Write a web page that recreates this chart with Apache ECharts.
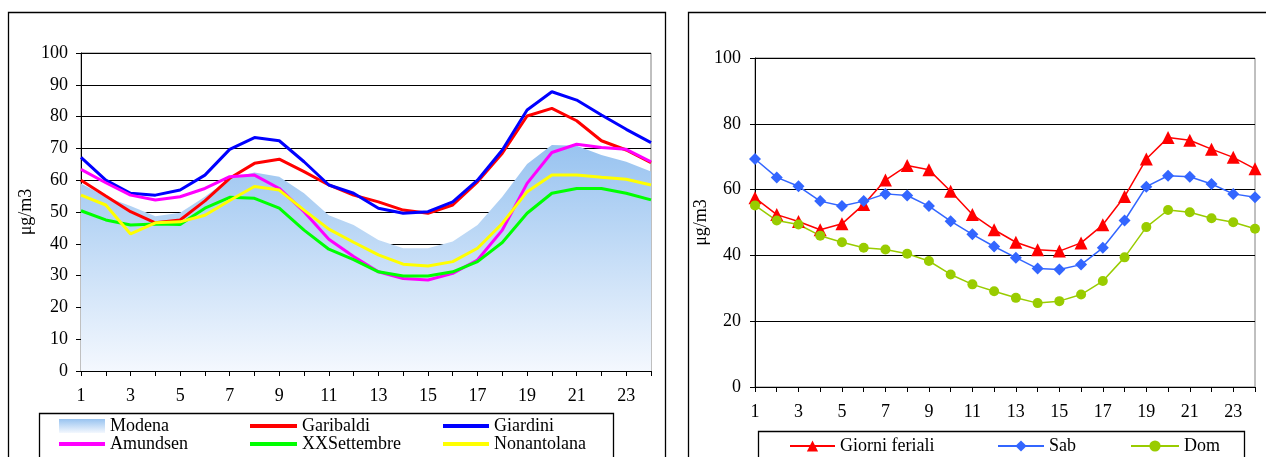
<!DOCTYPE html>
<html>
<head>
<meta charset="utf-8">
<script src="https://cdn.jsdelivr.net/npm/echarts@6/dist/echarts.min.js"></script>
<style>
html,body{margin:0;padding:0;background:#fff;}
#c{width:1266px;height:457px;}
</style>
</head>
<body>
<div id="c"></div>
<script>
const hours = ['1','2','3','4','5','6','7','8','9','10','11','12','13','14','15','16','17','18','19','20','21','22','23','24'];

const modena      = [59,54.8,51.9,48.7,49.8,54.8,60.6,62.4,61.1,55.9,49,45.9,41.2,38.6,38.6,40.7,45.9,54.8,65.1,71.1,70.8,67.9,65.8,62.7];
const garibaldi   = [60,55,50.1,46.6,47.5,53.5,60.6,65.3,66.6,62.7,58.5,55.3,53.2,50.6,49.6,52.2,59.5,68.5,80.2,82.6,78.7,72.4,69.5,65.5];
const giardini    = [67.2,60,55.9,55.3,56.9,61.6,69.7,73.4,72.4,65.8,58.5,55.9,51.2,49.6,50.1,53.2,60,69.5,82.1,87.8,85.2,80.5,76,71.8];
const amundsen    = [63.4,59.2,55.3,53.8,54.8,57.4,61.1,61.6,57.4,50.1,41.4,36,31.2,29.1,28.6,30.7,34.9,44.3,59,68.7,71.3,70.3,69.7,65.8];
const xxsettembre = [50.4,47.5,45.9,46.2,46.1,51.2,54.6,54.3,51.2,44.3,38.3,35,31.2,29.9,29.9,31.2,34.4,40.4,49.6,55.9,57.4,57.4,55.9,53.8];
const nonantolana = [55.3,52.2,43.1,46.6,46.9,49,53.6,58,56.9,50.6,44.6,40.5,36.5,33.6,33,34.4,38.6,46.4,56.4,61.6,61.6,60.9,60.3,58.5];

const feriali = [57.5,52.4,50.3,47.8,49.6,55.5,62.9,67.3,66,59.5,52.4,47.8,44,41.7,41.3,43.8,49.3,57.9,69.3,75.8,75,72.3,69.8,66.3];
const sab     = [69.3,63.7,61,56.5,55,56.5,58.7,58.2,55,50.4,46.4,42.7,39.3,36,35.7,37.2,42.3,50.6,60.9,64.2,63.9,61.7,58.7,57.7];
const dom     = [55.2,50.6,49.4,46,44,42.3,41.8,40.5,38.3,34.2,31.2,29.1,27.1,25.5,26.1,28.1,32.2,39.4,48.6,53.8,53.1,51.3,50.1,48.1];

const FONT = 'Liberation Serif';
const FS = 18;
const chart = echarts.init(document.getElementById('c'), null, {renderer:'canvas'});

function modenaGrad(){
  return new echarts.graphic.LinearGradient(0,0,0,1,[
    {offset:0,color:'#98c3f0'},
    {offset:1,color:'#f4f8fe'}
  ]);
}
function txt(){ return {fontFamily:FONT,fontSize:FS,color:'#000'}; }

function xAxis(gridIndex){
  return {
    type:'category', gridIndex, data:hours, boundaryGap:false,
    axisLine:{lineStyle:{color:'#000',width:1}},
    axisTick:{show:true,interval:0,alignWithLabel:true,length:5,lineStyle:{color:'#000'}},
    axisLabel:Object.assign({interval:1,margin:16},txt()),
    splitLine:{show:false}
  };
}
function yAxis(gridIndex, interval, gap, margin){
  return {
    type:'value', gridIndex, min:0, max:100, interval,
    name:'μg/m3', nameLocation:'middle', nameGap:gap, nameRotate:90,
    nameTextStyle:txt(),
    axisLine:{show:true,lineStyle:{color:'#000',width:1}},
    axisTick:{show:true,length:5,lineStyle:{color:'#000'}},
    axisLabel:Object.assign({margin},txt()),
    splitLine:{show:true,lineStyle:{color:'#000',width:1}}
  };
}
function lineS(name, data, color){
  return {name, type:'line', xAxisIndex:0, yAxisIndex:0, data, symbol:'none',
    lineStyle:{color,width:3}, itemStyle:{color}, animation:false};
}
function markS(name, data, color, symbol, size){
  return {name, type:'line', xAxisIndex:1, yAxisIndex:1, data, symbol, symbolSize:size,
    showSymbol:true, lineStyle:{color,width:1.5}, itemStyle:{color}, animation:false};
}
const BAR = 'path://M0,0H46V4H0Z';
function legend(data,left,top,itemWidth,orient){
  return {data,left,top,orient:orient||'vertical',itemWidth,itemHeight:14,itemGap:0,padding:0,
    symbolKeepAspect:true,textStyle:txt(),selectedMode:false};
}
function barItem(name,color){ return {name,icon:BAR,itemStyle:{color}}; }

chart.setOption({
  animation:false,
  backgroundColor:'#fff',
  grid:[
    {left:81,top:53,width:570,height:318,show:true,borderColor:'#808080',borderWidth:1,backgroundColor:'transparent'},
    {left:755,top:58,width:500,height:329,show:true,borderColor:'#808080',borderWidth:1,backgroundColor:'transparent'}
  ],
  xAxis:[xAxis(0),xAxis(1)],
  yAxis:[yAxis(0,10,46,13),yAxis(1,20,36,14)],
  legend:[
    legend([{name:'Modena',icon:'rect',itemStyle:{color:modenaGrad()}},barItem('Amundsen','#ff00ff')],59,417,46),
    legend([barItem('Garibaldi','#ff0000'),barItem('XXSettembre','#00ff00')],250,417,47),
    legend([barItem('Giardini','#0000ff'),barItem('Nonantolana','#ffff00')],443,417,46),
    legend(['Giorni feriali'],789,437,45,'horizontal'),
    legend(['Sab'],997,437,46,'horizontal'),
    legend(['Dom'],1130,437,48,'horizontal')
  ],
  graphic:[
    {type:'rect',shape:{x:8.5,y:12.5,width:657,height:470},style:{fill:null,stroke:'#000',lineWidth:1.3},silent:true},
    {type:'rect',shape:{x:688.5,y:12.5,width:600,height:470},style:{fill:null,stroke:'#000',lineWidth:1.3},silent:true},
    {type:'rect',shape:{x:39.5,y:413.5,width:574,height:60},style:{fill:null,stroke:'#000',lineWidth:1.3},silent:true},
    {type:'rect',shape:{x:758.5,y:431.5,width:486,height:40},style:{fill:null,stroke:'#000',lineWidth:1.3},silent:true}
  ],
  series:[
    {name:'Modena',type:'line',xAxisIndex:0,yAxisIndex:0,data:modena,symbol:'none',
      lineStyle:{width:0,color:'#a8cdf4'},itemStyle:{color:'#a8cdf4'},
      areaStyle:{color:modenaGrad(),opacity:1},animation:false},
    lineS('Garibaldi',garibaldi,'#ff0000'),
    lineS('Giardini',giardini,'#0000ff'),
    lineS('Amundsen',amundsen,'#ff00ff'),
    lineS('XXSettembre',xxsettembre,'#00ff00'),
    lineS('Nonantolana',nonantolana,'#ffff00'),
    markS('Giorni feriali',feriali,'#ff0000','triangle',13),
    markS('Sab',sab,'#3366ff','diamond',12),
    markS('Dom',dom,'#99cc00','circle',10)
  ]
});
</script>
</body>
</html>
